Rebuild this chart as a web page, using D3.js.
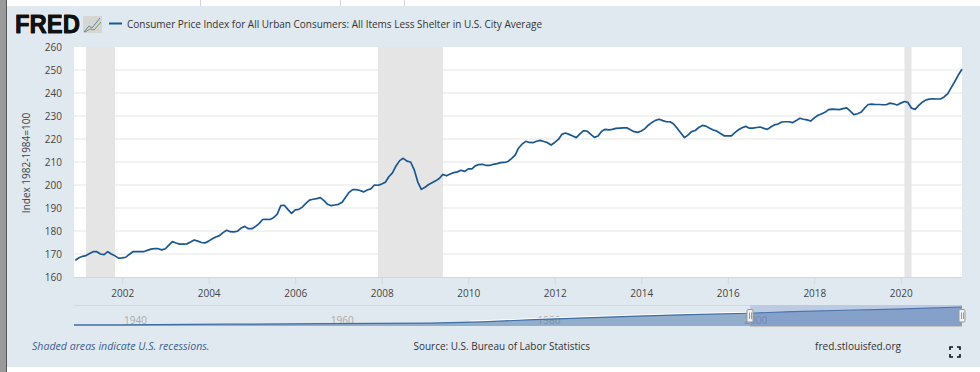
<!DOCTYPE html>
<html>
<head>
<meta charset="utf-8">
<script src="https://cdn.jsdelivr.net/npm/d3@7"></script>
<style>
  html, body { margin: 0; padding: 0; background: #fff; }
  svg { display: block; font-family: "Open Sans", sans-serif; }
  .domain { display: none; }
</style>
</head>
<body>
<div id="chart"></div>
<script>
// monthly index, Dec 2000 - Jun 2021
const cpiValues = [
  167.3,
  168.4,169.0,169.3,170.2,171.0,171.0,170.0,169.7,171.0,170.0,169.2,168.2,
  168.3,168.6,169.8,171.0,171.0,171.0,171.0,171.6,172.1,172.3,172.3,171.8,
  172.3,174.0,175.4,174.8,174.3,174.3,174.4,175.2,176.1,175.6,175.0,174.8,
  175.6,176.6,177.4,178.0,179.3,180.3,179.7,179.6,179.9,181.3,182.0,181.0,
  181.0,182.0,183.2,185.0,185.1,185.0,185.8,187.2,191.0,191.2,189.3,187.7,
  189.2,189.4,190.4,192.0,193.4,193.8,194.1,194.5,193.2,191.6,191.0,191.3,
  191.6,192.5,194.6,196.8,198.0,198.0,197.6,197.0,197.8,198.3,200.0,199.9,
  200.4,201.2,203.6,205.3,208.3,210.6,211.6,210.4,210.0,206.7,201.3,198.1,
  199.0,200.2,201.0,201.8,202.8,204.6,204.0,204.8,205.4,205.7,206.4,205.9,
  207.0,207.0,208.3,208.9,209.0,208.5,208.5,209.0,209.3,209.7,209.8,210.2,
  211.5,213.0,216.0,217.8,219.0,218.5,218.4,219.0,219.4,218.9,218.4,217.4,
  218.5,219.8,222.0,222.6,222.0,221.3,220.6,222.2,223.6,223.4,222.0,220.7,
  221.3,223.4,224.2,224.0,224.2,224.6,224.7,224.8,224.9,224.0,223.2,222.9,
  223.5,224.5,226.0,227.2,228.1,228.6,228.0,227.5,227.5,226.5,224.6,222.6,
  220.6,221.8,223.2,223.7,225.0,225.9,225.6,224.7,223.9,223.4,222.4,221.4,
  221.4,221.4,222.8,224.0,224.9,225.5,224.7,224.7,225.0,225.2,224.6,224.2,
  225.3,226.2,226.5,227.4,227.5,227.5,227.1,228.0,229.0,228.6,228.3,227.8,
  229.2,230.3,230.9,231.6,232.8,233.0,232.9,232.8,233.2,233.5,232.1,230.6,
  231.0,231.7,233.4,235.0,235.2,235.0,235.0,234.9,234.9,235.6,235.3,234.8,
  235.6,236.3,235.9,233.4,232.9,234.6,236.0,237.0,237.3,237.5,237.4,237.4,
  238.3,239.7,242.2,245.0,247.8,250.3
];
const yTicks = [160, 170, 180, 190, 200, 210, 220, 230, 240, 250, 260];
const xTickYears = [2002, 2004, 2006, 2008, 2010, 2012, 2014, 2016, 2018, 2020];
const recessions = [
  ["2001-03-01", "2001-11-01"],
  ["2007-12-01", "2009-06-01"],
  ["2020-02-01", "2020-04-01"]
];

// navigator overview series
const navYears = [1935.5, 1940, 1950, 1960, 1970, 1975, 1980, 1985, 1990, 1995, 2000.9, 2005, 2010, 2015, 2021.4];
const navValues = [14, 14, 24, 30, 38, 54, 85, 108, 130, 150, 168, 190, 207, 222, 250];
const navLabels = [1940, 1960, 1980, 2000];

const titleText = "Consumer Price Index for All Urban Consumers: All Items Less Shelter in U.S. City Average";
const yTitle = "Index 1982-1984=100";
const noteText = "Shaded areas indicate U.S. recessions.";
const sourceText = "Source: U.S. Bureau of Labor Statistics";
const siteText = "fred.stlouisfed.org";

const lineColor = "#1a5690";
const width = 980, height = 372;
const plot = { left: 74, right: 962, top: 47, bottom: 277 };
const nav = { top: 305, bottom: 326, selStart: 2000.9 };

const svg = d3.select("#chart").append("svg")
  .attr("width", width)
  .attr("height", height);

// page furniture around the panel
svg.append("rect").attr("width", width).attr("height", height).attr("fill", "#fff");
svg.append("rect").attr("x", 0).attr("y", 0).attr("width", 6).attr("height", height).attr("fill", "#9a9a9a");
svg.append("rect").attr("x", 6).attr("y", 0).attr("width", 1).attr("height", height).attr("fill", "#555");
svg.append("rect").attr("x", 7).attr("y", 6).attr("width", width - 7).attr("height", 361).attr("fill", "#e1e9f0");
[200, 340, 404].forEach(function(x) {
  svg.append("rect").attr("x", x).attr("y", 0).attr("width", 1).attr("height", 6).attr("fill", "#ccd6e0");
});

// logo
const logo = svg.append("g");
logo.append("text")
  .attr("x", 15).attr("y", 33)
  .attr("font-family", "Liberation Sans")
  .attr("font-weight", 700)
  .attr("font-size", 25)
  .attr("textLength", 65)
  .attr("lengthAdjust", "spacingAndGlyphs")
  .attr("fill", "#111")
  .attr("stroke", "#fff")
  .attr("stroke-width", 2)
  .attr("paint-order", "stroke")
  .text("FRED");
logo.append("text")
  .attr("x", 15).attr("y", 33)
  .attr("font-family", "Liberation Sans")
  .attr("font-weight", 700)
  .attr("font-size", 25)
  .attr("textLength", 65)
  .attr("lengthAdjust", "spacingAndGlyphs")
  .attr("fill", "#111")
  .attr("stroke", "#111")
  .attr("stroke-width", 0.8)
  .text("FRED");
logo.append("rect").attr("x", 83).attr("y", 16).attr("width", 19).attr("height", 17).attr("fill", "#d6d6d2");
logo.append("path").attr("d", "M84,32 L89,26 L92,28 L100,18").attr("fill", "none").attr("stroke", "#5f86b0").attr("stroke-width", 1);
logo.append("path").attr("d", "M85,32 L90,29 L94,30 L101,22").attr("fill", "none").attr("stroke", "#7a9a5a").attr("stroke-width", 1);

// legend
svg.append("line").attr("x1", 109).attr("x2", 122).attr("y1", 23.5).attr("y2", 23.5)
  .attr("stroke", lineColor).attr("stroke-width", 2);
svg.append("text").attr("x", 127).attr("y", 27.5)
  .attr("font-size", 11).attr("fill", "#333")
  .attr("textLength", 415).attr("lengthAdjust", "spacingAndGlyphs")
  .text(titleText);

// main chart
const months = d3.utcMonth.range(new Date(Date.UTC(2000, 11, 1)), new Date(Date.UTC(2021, 6, 1)));
const x = d3.scaleUtc()
  .domain([months[0], months[months.length - 1]])
  .range([75.3, plot.right]);
const y = d3.scaleLinear()
  .domain([160, 260])
  .range([plot.bottom, plot.top]);

svg.append("rect")
  .attr("x", plot.left).attr("y", plot.top)
  .attr("width", plot.right - plot.left).attr("height", plot.bottom - plot.top)
  .attr("fill", "#fff");

svg.append("g").selectAll("rect")
  .data(recessions)
  .join("rect")
  .attr("x", d => x(new Date(d[0])))
  .attr("width", d => x(new Date(d[1])) - x(new Date(d[0])))
  .attr("y", plot.top)
  .attr("height", plot.bottom - plot.top)
  .attr("fill", "#e5e5e5");

const yAxis = d3.axisLeft(y).tickValues(yTicks).tickSize(0).tickPadding(0);
const yG = svg.append("g")
  .attr("transform", "translate(62,0)")
  .call(yAxis);
yG.selectAll("text").attr("font-size", 10).attr("fill", "#444").attr("font-family", "Open Sans");

svg.append("g").selectAll("line")
  .data(yTicks.slice(1, -1))
  .join("line")
  .attr("x1", plot.left).attr("x2", plot.right)
  .attr("y1", d => y(d)).attr("y2", d => y(d))
  .attr("stroke", "#e6e6e6").attr("stroke-width", 1.2);

const xAxis = d3.axisBottom(x)
  .tickValues(xTickYears.map(d => new Date(Date.UTC(d, 0, 1))))
  .tickFormat(d3.utcFormat("%Y"))
  .tickSize(7)
  .tickPadding(5.5);
const xG = svg.append("g")
  .attr("transform", "translate(0," + plot.bottom + ")")
  .call(xAxis);
xG.selectAll("text").attr("font-size", 10).attr("fill", "#444").attr("font-family", "Open Sans");
xG.selectAll("line").attr("stroke", "#ccd6eb");

svg.append("line")
  .attr("x1", plot.left).attr("x2", plot.right)
  .attr("y1", plot.bottom + 0.5).attr("y2", plot.bottom + 0.5)
  .attr("stroke", "#ccd6eb");

const line = d3.line()
  .x((d, i) => x(months[i]))
  .y(d => y(d));

svg.append("path")
  .datum(cpiValues)
  .attr("fill", "none")
  .attr("stroke", lineColor)
  .attr("stroke-width", 1.7)
  .attr("stroke-linejoin", "round")
  .attr("d", line);

svg.append("text")
  .attr("transform", "translate(30,163) rotate(-90)")
  .attr("text-anchor", "middle")
  .attr("font-size", 10).attr("fill", "#444")
  .text(yTitle);

// navigator
const navX = d3.scaleLinear().domain([navYears[0], navYears[navYears.length - 1]]).range([plot.left, plot.right]);
const navY = d3.scaleLinear().domain([0, 250]).range([nav.bottom, 307]);
const selLeft = navX(nav.selStart);

svg.append("line")
  .attr("x1", plot.left).attr("x2", selLeft)
  .attr("y1", nav.top + 0.5).attr("y2", nav.top + 0.5)
  .attr("stroke", "#d2d8dc");

const navArea = d3.area()
  .x((d, i) => navX(navYears[i]))
  .y0(nav.bottom)
  .y1(d => navY(d));
const navLine = d3.line()
  .x((d, i) => navX(navYears[i]))
  .y(d => navY(d));

svg.append("g").selectAll("text")
  .data(navLabels)
  .join("text")
  .attr("x", d => navX(d) + 15)
  .attr("y", 324)
  .attr("text-anchor", "middle")
  .attr("font-size", 10)
  .attr("fill", "#aaa")
  .text(d => d);

svg.append("clipPath").attr("id", "nav-left").append("rect")
  .attr("x", 470).attr("y", nav.top).attr("width", selLeft - 470).attr("height", nav.bottom - nav.top);
svg.append("path").datum(navValues)
  .attr("clip-path", "url(#nav-left)")
  .attr("transform", "translate(0,-1)")
  .attr("fill", "none").attr("stroke", "#fff").attr("stroke-width", 1.2)
  .attr("d", navLine);

svg.append("path").datum(navValues)
  .attr("fill", "#4572a7").attr("fill-opacity", 0.5)
  .attr("d", navArea);
svg.append("path").datum(navValues)
  .attr("fill", "none").attr("stroke", "#3f6ea5").attr("stroke-width", 1.2)
  .attr("d", navLine);

// selected range mask + handles
svg.append("rect")
  .attr("x", selLeft).attr("y", nav.top)
  .attr("width", plot.right - selLeft).attr("height", nav.bottom - nav.top)
  .attr("fill", "#6685c2").attr("fill-opacity", 0.3);
svg.append("line")
  .attr("x1", selLeft).attr("x2", plot.right)
  .attr("y1", nav.bottom + 0.5).attr("y2", nav.bottom + 0.5)
  .attr("stroke", "#c4c4c4");

const handles = svg.append("g").selectAll("g")
  .data([selLeft, plot.right])
  .join("g")
  .attr("transform", d => "translate(" + Math.round(d) + ",309)");
handles.append("rect")
  .attr("x", -3).attr("y", 0.5).attr("width", 6).attr("height", 12.5).attr("rx", 1)
  .attr("fill", "#f2f2f2").attr("stroke", "#999");
handles.append("path")
  .attr("d", "M-0.5,3.5V10M1.5,3.5V10")
  .attr("stroke", "#999").attr("fill", "none");

// footer
svg.append("text").attr("x", 32).attr("y", 349.5)
  .attr("font-size", 11).attr("font-style", "italic").attr("fill", "#3b5f8f")
  .attr("textLength", 177.5).attr("lengthAdjust", "spacingAndGlyphs")
  .text(noteText);
svg.append("text").attr("x", 413.5).attr("y", 349.5)
  .attr("font-size", 11).attr("fill", "#333")
  .attr("textLength", 176.5).attr("lengthAdjust", "spacingAndGlyphs")
  .text(sourceText);
svg.append("text").attr("x", 815).attr("y", 349.5)
  .attr("font-size", 11).attr("fill", "#333")
  .attr("textLength", 86).attr("lengthAdjust", "spacingAndGlyphs")
  .text(siteText);

// fullscreen icon
svg.append("path")
  .attr("d", "M950,350V347H953M957,347H960V350M960,354V357H957M953,357H950V354")
  .attr("fill", "none").attr("stroke", "#111").attr("stroke-width", 1.6);
</script>
</body>
</html>
